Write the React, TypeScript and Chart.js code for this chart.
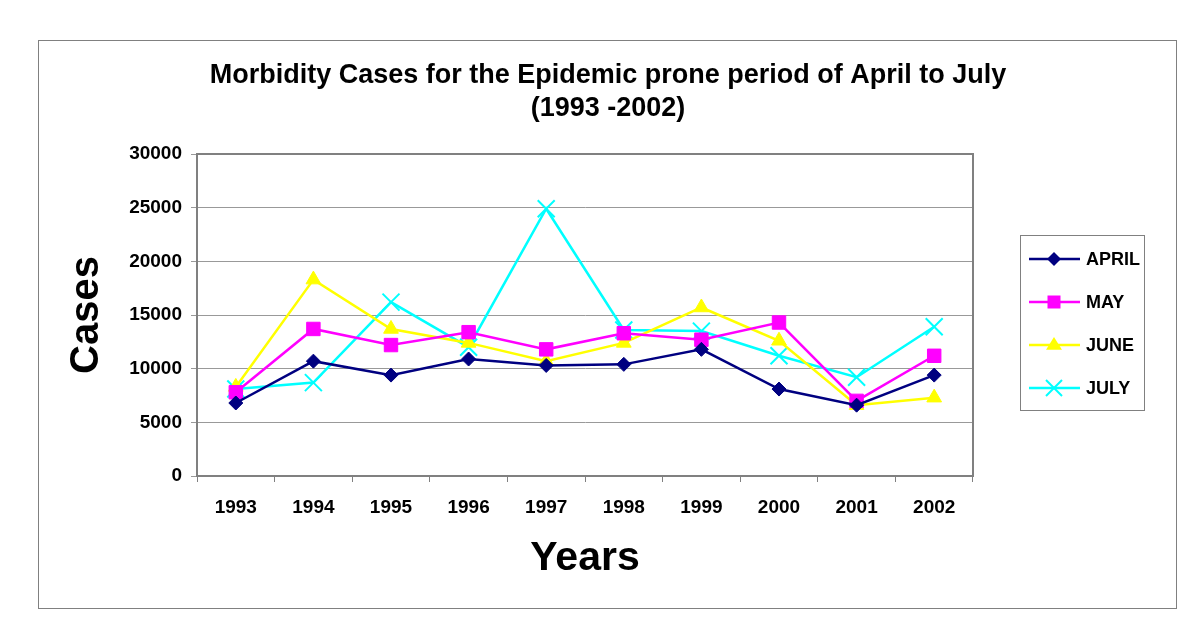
import React, { useEffect, useRef } from "react";
import { Chart, registerables } from "chart.js";

Chart.register(...registerables);

const YEARS = ["1993", "1994", "1995", "1996", "1997", "1998", "1999", "2000", "2001", "2002"];
const APRIL = [6800, 10700, 9400, 10900, 10300, 10400, 11800, 8100, 6600, 9400];
const MAY = [7800, 13700, 12200, 13400, 11800, 13300, 12700, 14300, 7000, 11200];
const JUNE = [8300, 18300, 13700, 12400, 10700, 12400, 15700, 12600, 6600, 7300];
const JULY = [8100, 8700, 16200, 12000, 24900, 13600, 13500, 11200, 9200, 13900];
const SERIES_NAMES = ["APRIL", "MAY", "JUNE", "JULY"];
const TITLE_LINES = ["Morbidity Cases for the Epidemic prone period of April to July", "(1993 -2002)"];

const FONT = "'Liberation Sans', Arial, Helvetica, sans-serif";

function drawMarker(ctx: CanvasRenderingContext2D, style: string, x: number, y: number, color: string) {
  ctx.save();
  ctx.fillStyle = color;
  ctx.strokeStyle = color;
  ctx.beginPath();
  if (style === "rectRot") {
    const r = 7;
    ctx.moveTo(x, y - r);
    ctx.lineTo(x + r, y);
    ctx.lineTo(x, y + r);
    ctx.lineTo(x - r, y);
    ctx.closePath();
    ctx.fill();
  } else if (style === "rect") {
    const s = 6.5;
    ctx.rect(x - s, y - s, 2 * s, 2 * s);
    ctx.fill();
  } else if (style === "triangle") {
    const r = 8;
    ctx.moveTo(x, y - r);
    ctx.lineTo(x + r, y + r * 0.6);
    ctx.lineTo(x - r, y + r * 0.6);
    ctx.closePath();
    ctx.fill();
  } else {
    const r = 8;
    ctx.lineWidth = 2;
    ctx.moveTo(x - r, y - r);
    ctx.lineTo(x + r, y + r);
    ctx.moveTo(x + r, y - r);
    ctx.lineTo(x - r, y + r);
    ctx.stroke();
  }
  ctx.restore();
}

const decorPlugin = {
  id: "decor",
  beforeDraw(chart: any) {
    const ctx = chart.ctx as CanvasRenderingContext2D;
    ctx.save();
    ctx.fillStyle = "#ffffff";
    ctx.fillRect(0, 0, chart.width, chart.height);
    ctx.strokeStyle = "#808080";
    ctx.lineWidth = 1;
    ctx.strokeRect(38.5, 40.5, 1138, 568);
    ctx.restore();
  },
  afterDraw(chart: any) {
    const ctx = chart.ctx as CanvasRenderingContext2D;
    const a = chart.chartArea;
    ctx.save();
    // plot border
    ctx.strokeStyle = "#808080";
    ctx.lineWidth = 2;
    ctx.strokeRect(a.left, a.top, a.right - a.left, a.bottom - a.top);
    // title
    ctx.fillStyle = "#000000";
    ctx.font = `bold 27px ${FONT}`;
    ctx.textAlign = "center";
    ctx.textBaseline = "alphabetic";
    ctx.fillText(TITLE_LINES[0], 608, 83);
    ctx.fillText(TITLE_LINES[1], 608, 116);
    // legend
    ctx.strokeStyle = "#808080";
    ctx.lineWidth = 1;
    ctx.strokeRect(1020.5, 235.5, 124, 175);
    const rows = [259, 302, 345, 388];
    chart.data.datasets.forEach((ds: any, i: number) => {
      const y = rows[i];
      ctx.strokeStyle = ds.borderColor;
      ctx.lineWidth = 2.5;
      ctx.beginPath();
      ctx.moveTo(1029, y);
      ctx.lineTo(1080, y);
      ctx.stroke();
      drawMarker(ctx, ds.pointStyle, 1054, y, ds.borderColor);
      ctx.fillStyle = "#000000";
      ctx.font = `bold 18px ${FONT}`;
      ctx.textAlign = "left";
      ctx.textBaseline = "middle";
      ctx.fillText(ds.label, 1086, y + 1);
    });
    ctx.restore();
  },
};

export default function App() {
  const ref = useRef<HTMLCanvasElement | null>(null);
  useEffect(() => {
    if (!ref.current) return;
    const mk = (label: string, data: number[], color: string, pointStyle: string, radius: number) => ({
      label,
      data,
      borderColor: color,
      backgroundColor: color,
      pointBackgroundColor: color,
      pointBorderColor: color,
      borderWidth: 2.5,
      pointStyle,
      pointRadius: radius,
      pointBorderWidth: pointStyle === "crossRot" ? 2 : 1,
      tension: 0,
    });
    const chart = new Chart(ref.current, {
      type: "line",
      data: {
        labels: YEARS,
        datasets: [
          mk(SERIES_NAMES[0], APRIL, "#000080", "rectRot", 7),
          mk(SERIES_NAMES[1], MAY, "#FF00FF", "rect", 9.5),
          mk(SERIES_NAMES[2], JUNE, "#FFFF00", "triangle", 8.5),
          mk(SERIES_NAMES[3], JULY, "#00FFFF", "crossRot", 12),
        ],
      },
      options: {
        responsive: false,
        animation: false,
        layout: { padding: { left: 0, top: 154, right: 227, bottom: 0 } },
        plugins: {
          legend: { display: false },
          title: { display: false },
          tooltip: { enabled: false },
        },
        scales: {
          x: {
            type: "category",
            offset: true,
            grid: {
              offset: true,
              drawOnChartArea: false,
              color: "#808080",
              tickLength: 6,
            },
            border: { display: true, color: "#808080", width: 2 },
            ticks: {
              color: "#000000",
              font: { family: FONT, size: 19, weight: "bold" },
              padding: 14,
              maxRotation: 0,
            },
            title: {
              display: true,
              text: "Years",
              color: "#000000",
              font: { family: FONT, size: 41, weight: "bold" },
              padding: { top: 0, bottom: 50 },
            },
            afterFit: (s: any) => {
              s.height = 157;
            },
          },
          y: {
            min: 0,
            max: 30000,
            ticks: {
              stepSize: 5000,
              color: "#000000",
              font: { family: FONT, size: 19, weight: "bold" },
              padding: 9,
              callback: (v: any) => String(v),
            },
            grid: { color: "#999999", tickLength: 6, lineWidth: 1 },
            border: { display: true, color: "#808080", width: 2 },
            title: {
              display: true,
              text: "Cases",
              color: "#000000",
              font: { family: FONT, size: 40, weight: "bold" },
              padding: { top: 63, bottom: 0 },
            },
            afterFit: (s: any) => {
              s.width = 197;
            },
          },
        },
      } as any,
      plugins: [decorPlugin],
    });
    return () => chart.destroy();
  }, []);
  return (
    <div style={{ position: "absolute", left: 0, top: 0, width: 1200, height: 633, background: "#fff" }}>
      <canvas ref={ref} width={1200} height={633} style={{ display: "block" }} />
    </div>
  );
}
